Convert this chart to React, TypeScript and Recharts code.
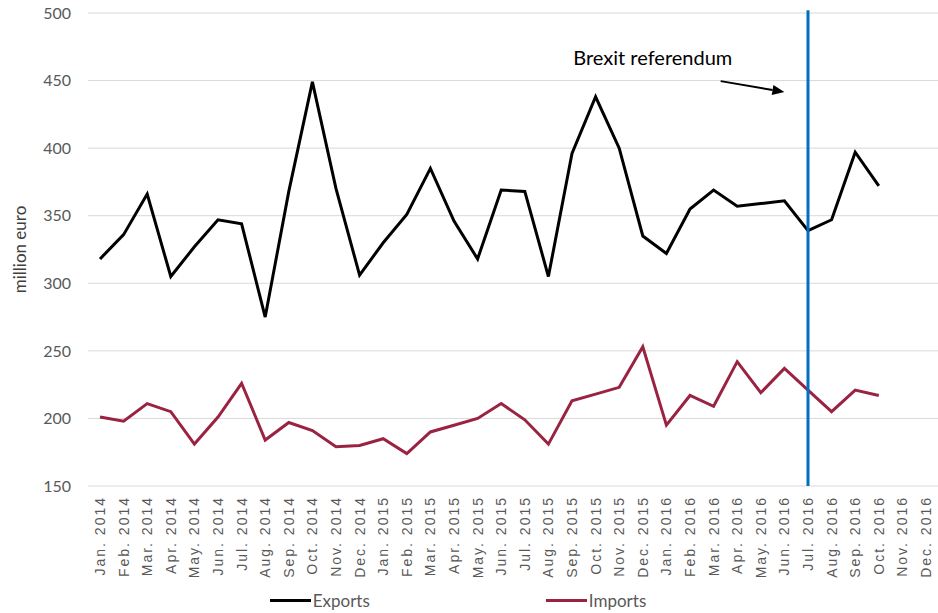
import {
  LineChart,
  Line,
  XAxis,
  YAxis,
  CartesianGrid,
  ReferenceLine,
  ReferenceDot,
  Legend
} from 'recharts'

const months = [
  'Jan. 2014', 'Feb. 2014', 'Mar. 2014', 'Apr. 2014', 'May. 2014', 'Jun. 2014',
  'Jul. 2014', 'Aug. 2014', 'Sep. 2014', 'Oct. 2014', 'Nov. 2014', 'Dec. 2014',
  'Jan. 2015', 'Feb. 2015', 'Mar. 2015', 'Apr. 2015', 'May. 2015', 'Jun. 2015',
  'Jul. 2015', 'Aug. 2015', 'Sep. 2015', 'Oct. 2015', 'Nov. 2015', 'Dec. 2015',
  'Jan. 2016', 'Feb. 2016', 'Mar. 2016', 'Apr. 2016', 'May. 2016', 'Jun. 2016',
  'Jul. 2016', 'Aug. 2016', 'Sep. 2016', 'Oct. 2016', 'Nov. 2016', 'Dec. 2016'
]

const exportsValues = [
  318, 336, 366, 305, 327, 347, 344, 275, 368, 449, 370, 306,
  330, 351, 385, 346, 318, 369, 368, 305, 396, 438, 400, 335,
  322, 355, 369, 357, 359, 361, 339, 347, 397, 372, null, null
]

const importsValues = [
  201, 198, 211, 205, 181, 201, 226, 184, 197, 191, 179, 180,
  185, 174, 190, 195, 200, 211, 199, 181, 213, 218, 223, 253,
  195, 217, 209, 242, 219, 237, 221, 205, 221, 217, null, null
]

const yTicks = [150, 200, 250, 300, 350, 400, 450, 500]

const data = months.map((m, i) => ({
  month: m,
  Exports: exportsValues[i],
  Imports: importsValues[i]
}))

const MonthTick = (props: any) => {
  const { x, y, payload } = props
  return (
    <g transform={`translate(${x},${y})`}>
      <text
        transform="rotate(-90)"
        textAnchor="end"
        dy="0.36em"
        fontSize={14}
        letterSpacing={2}
        fill="#595959"
        fontFamily="'Liberation Sans', Arial, sans-serif"
      >
        {payload.value}
      </text>
    </g>
  )
}

// arrow pointing at the referendum line
const Arrow = (props: any) => {
  const { x1, y1, x2, y2 } = props
  const sx = x1 + (x2 - x1) * 0.1
  const sy = y1 + (y2 - y1) * 0.1
  const ang = Math.atan2(y2 - y1, x2 - x1)
  const len = 12
  const w = 5
  const bx = x2 - Math.cos(ang) * len
  const by = y2 - Math.sin(ang) * len
  const px = -Math.sin(ang) * w
  const py = Math.cos(ang) * w
  return (
    <g>
      <line x1={sx} y1={sy} x2={bx} y2={by} stroke="#000" strokeWidth={2} />
      <polygon points={`${x2},${y2} ${bx + px},${by + py} ${bx - px},${by - py}`} fill="#000" />
    </g>
  )
}

const LegendContent = (props: any) => {
  const { payload } = props
  return (
    <div style={{ display: 'flex', justifyContent: 'center', alignItems: 'center', height: 26, paddingRight: 22 }}>
      {payload.map((p: any, i: number) => (
        <div key={p.value} style={{ display: 'flex', alignItems: 'center', marginLeft: i === 0 ? 0 : 176 }}>
          <div style={{ width: 41, height: 3, background: p.color, marginRight: 2 }} />
          <span style={{ fontFamily: 'Lato, sans-serif', fontSize: 17, color: '#595959' }}>{p.value}</span>
        </div>
      ))}
    </div>
  )
}

const App = () => {
  return (
    <div style={{ position: 'absolute', left: 0, top: 0, background: '#fff' }}>
      <LineChart width={938} height={613} data={data} margin={{ top: 13, right: 0, bottom: 0, left: 0 }}>
        <CartesianGrid vertical={false} stroke="#d9d9d9" />
        <XAxis
          dataKey="month"
          interval={0}
          height={101}
          padding={{ left: 12, right: 12 }}
          axisLine={false}
          tickLine={false}
          tickSize={0}
          tickMargin={10}
          tick={<MonthTick />}
        />
        <YAxis
          domain={[150, 500]}
          ticks={yTicks}
          width={88}
          axisLine={false}
          tickLine={false}
          tickSize={0}
          tickMargin={17}
          tick={{ fill: '#595959', fontSize: 16, fontFamily: 'Lato, sans-serif' }}
          label={{
            value: 'million euro',
            angle: -90,
            position: 'insideLeft',
            offset: 0,
            dx: 20,
            style: { textAnchor: 'middle', fill: '#404040', fontSize: 17, fontFamily: 'Lato, sans-serif' }
          }}
        />
        <Legend verticalAlign="bottom" height={26} content={<LegendContent />} />
        <Line
          type="linear"
          dataKey="Exports"
          stroke="#000000"
          strokeWidth={3}
          dot={false}
          isAnimationActive={false}
        />
        <Line
          type="linear"
          dataKey="Imports"
          stroke="#9a2341"
          strokeWidth={3}
          dot={false}
          isAnimationActive={false}
        />
        <ReferenceLine
          segment={[{ x: 'Jul. 2016', y: 502 }, { x: 'Jul. 2016', y: 150 }]}
          stroke="#0070c0"
          strokeWidth={3}
          ifOverflow="visible"
        />
        <ReferenceLine
          segment={[{ x: 'Mar. 2016', y: 450.5 }, { x: 'Jun. 2016', y: 441.5 }]}
          ifOverflow="visible"
          shape={<Arrow />}
        />
        <ReferenceDot
          x="Dec. 2015"
          y={467}
          r={0}
          ifOverflow="visible"
          label={{
            value: 'Brexit referendum',
            position: 'center',
            dx: 10,
            fill: '#000',
            fontSize: 20,
            fontFamily: 'Lato, sans-serif'
          }}
        />
      </LineChart>
    </div>
  )
}

export default App
